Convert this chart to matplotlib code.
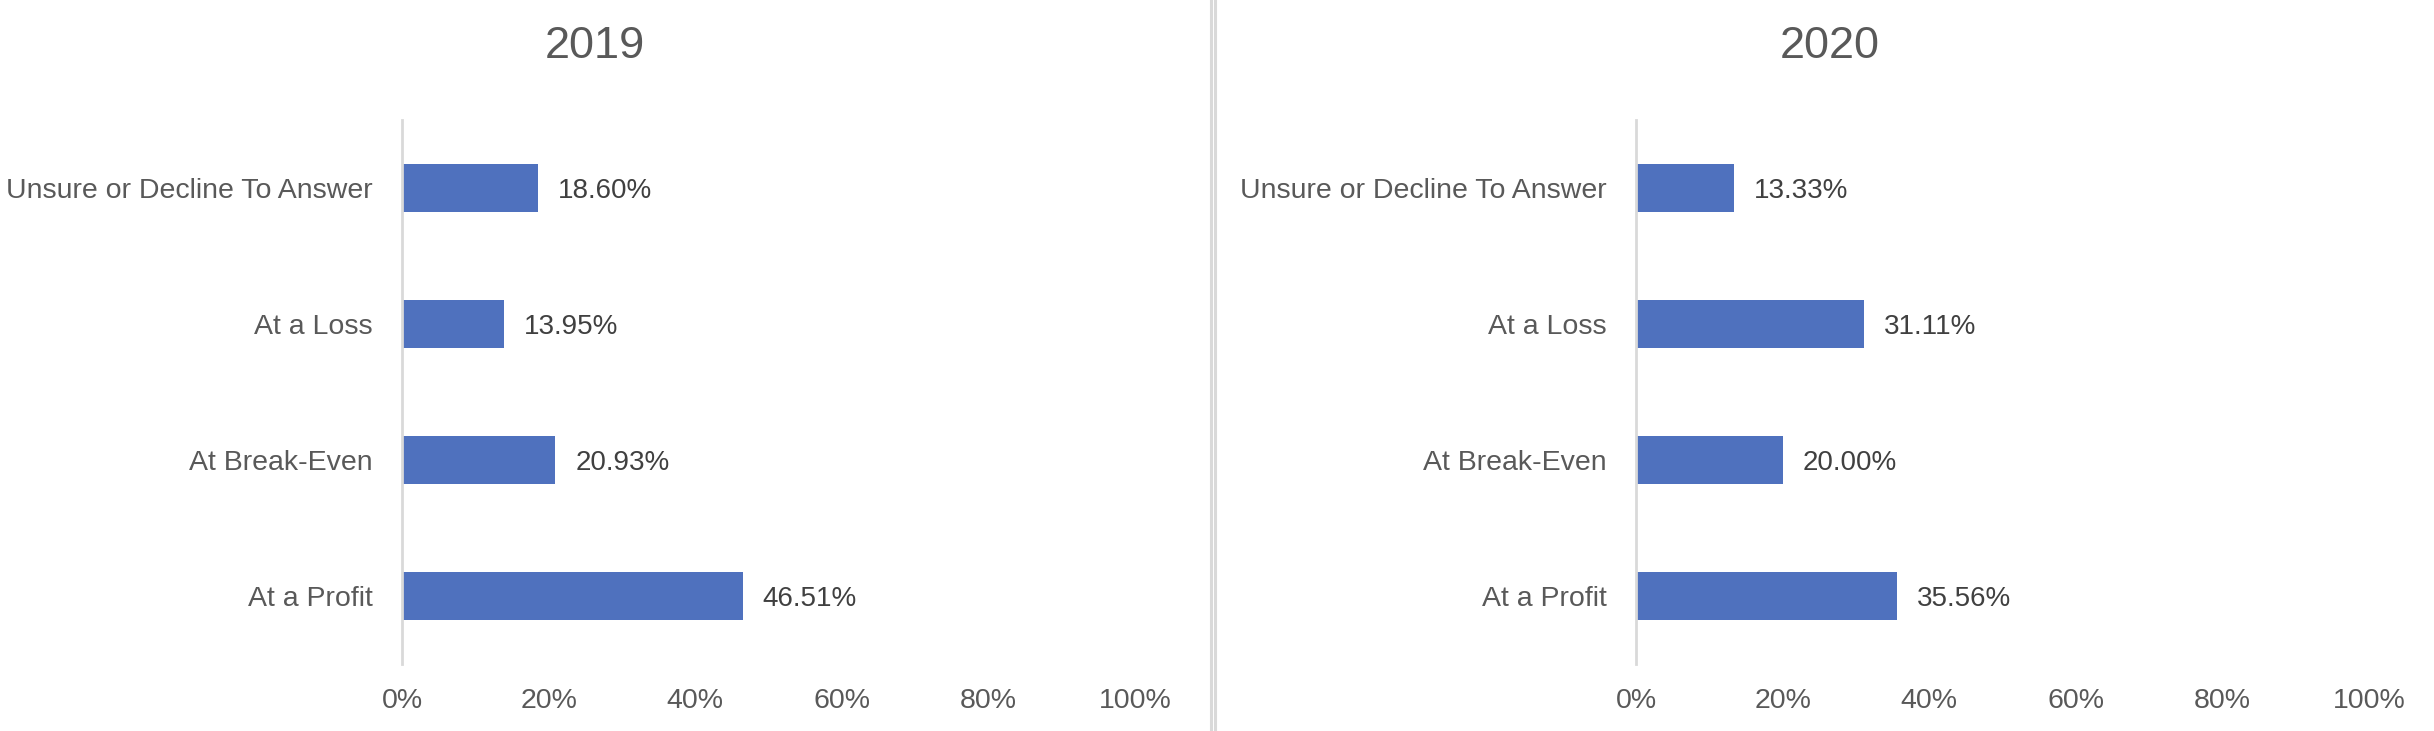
import numpy as np
import matplotlib.pyplot as plt
from matplotlib.lines import Line2D
from matplotlib.ticker import PercentFormatter

plt.rcParams['font.family'] = ['Liberation Sans', 'DejaVu Sans']

# data
categories = ["At a Profit", "At Break-Even", "At a Loss", "Unsure or Decline To Answer"]
values_2019 = [46.51, 20.93, 13.95, 18.60]
values_2020 = [35.56, 20.00, 31.11, 13.33]
years = ["2019", "2020"]

bar_color = "#4F71BE"
text_gray = "#595959"
label_dark = "#404040"
line_gray = "#D9D9D9"

W, H = 2434, 731
fig = plt.figure(figsize=(W / 100, H / 100), dpi=100)

# axes boxes in pixels: (left, width) ; top 120, bottom 664
boxes = [(402, 733), (1636, 733)]
title_x = [595, 1830]
top_px, bot_px = 120, 664

for (left, width), tx, year, vals in zip(boxes, title_x, years, [values_2019, values_2020]):
    ax = fig.add_axes([left / W, 1 - bot_px / H, width / W, (bot_px - top_px) / H])
    y = np.arange(len(categories))
    ax.barh(y, vals, height=0.36, color=bar_color)
    for yi, v in zip(y, vals):
        ax.text(v + 2.7, yi - 0.02, f"{v:.2f}%", va="center", ha="left",
                fontsize=20, color=label_dark)
    ax.set_xlim(0, 100)
    ax.set_ylim(-0.5, len(categories) - 0.5)
    ax.set_xticks(np.arange(0, 101, 20))
    ax.xaxis.set_major_formatter(PercentFormatter(decimals=0))
    ax.set_yticks(y)
    ax.set_yticklabels(categories)
    ax.tick_params(axis="x", length=0, pad=17, labelsize=20.5, labelcolor=text_gray)
    ax.tick_params(axis="y", length=0, pad=21, labelsize=20.5, labelcolor=text_gray)
    for s in ["top", "right", "bottom"]:
        ax.spines[s].set_visible(False)
    ax.spines["left"].set_color(line_gray)
    ax.spines["left"].set_linewidth(2)
    fig.text(tx / W, 1 - 46 / H, year, ha="center", va="center",
             fontsize=32.5, color=text_gray)

# chart borders between the two panels
for xp in [1210.5, 1215]:
    fig.add_artist(Line2D([xp / W, xp / W], [0, 1], color=line_gray, linewidth=2.2,
                          transform=fig.transFigure))

fig.savefig("out.png", dpi=100)
